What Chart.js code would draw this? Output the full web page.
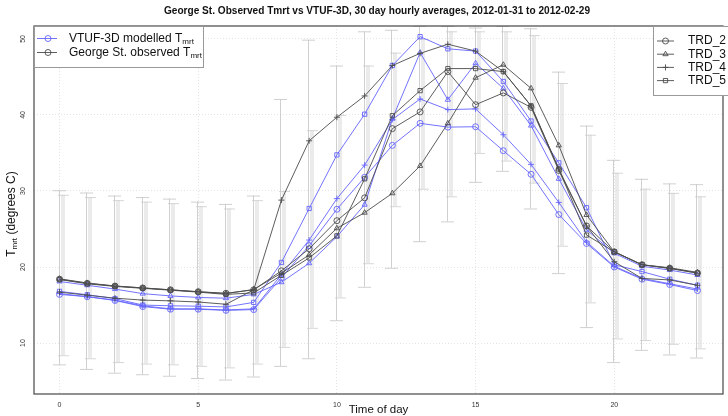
<!DOCTYPE html>
<html>
<head>
<meta charset="utf-8">
<script src="https://cdn.jsdelivr.net/npm/chart.js@4/dist/chart.umd.min.js"></script>
<style>
html,body{margin:0;padding:0;background:#fff}
#wrap{width:728px;height:416px}
</style>
</head>
<body>
<div id="wrap"><canvas id="c" width="728" height="416"></canvas></div>
<script>
// hours of the day
const hours=[0,1,2,3,4,5,6,7,8,9,10,11,12,13,14,15,16,17,18,19,20,21,22,23];
const xTicks=[0,5,10,15,20];
const yTicks=[10,20,30,40,50];

// George St. observed Tmrt
const obsTRD2=[18.4,17.85,17.5,17.25,17.0,16.75,16.55,17.0,19.5,22.4,26.1,29.1,38.2,40.4,45.7,41.35,42.9,41.0,32.7,25.4,22.0,20.3,19.85,19.2];
const obsTRD3=[18.45,17.9,17.5,17.25,17.0,16.75,16.5,17.05,19.2,21.6,25.1,27.15,29.7,33.3,38.9,44.9,46.6,43.5,36.0,26.85,22.0,20.3,19.9,19.3];
const obsTRD4=[16.7,16.3,15.9,15.65,15.55,15.4,15.1,17.0,28.8,36.6,39.7,42.5,46.5,48.1,49.3,48.4,45.7,41.2,32.9,25.4,20.7,18.5,18.3,17.6];
const obsTRD5=[18.35,17.8,17.45,17.2,16.95,16.7,16.4,16.6,18.9,21.2,24.1,31.6,39.9,43.2,46.1,46.1,45.7,41.2,32.9,24.2,22.0,20.3,19.8,19.2];
// VTUF-3D modelled Tmrt
const modTRD2=[16.4,16.1,15.6,14.8,14.45,14.45,14.3,14.4,18.6,22.8,27.6,31.8,36.0,38.9,38.4,38.45,35.3,32.2,26.9,23.1,20.0,18.4,17.7,16.9];
const modTRD3=[18.1,17.6,17.1,16.5,16.2,16.0,15.9,16.4,18.0,20.5,24.0,28.2,39.5,48.2,42.0,46.8,43.5,38.6,31.6,24.9,21.8,20.1,19.6,18.95];
const modTRD4=[16.5,16.1,15.65,14.9,14.5,14.5,14.35,14.5,19.0,23.55,29.0,33.4,39.4,42.1,40.7,40.8,37.4,33.5,28.5,23.3,20.1,18.5,17.8,17.1];
const modTRD5=[16.8,16.35,15.85,15.0,14.9,14.85,14.75,15.35,20.6,27.7,34.75,40.1,46.5,50.3,48.7,48.4,44.4,39.2,33.7,27.8,20.3,19.4,18.4,17.6];

// spread (error bars) per hour
const errLo=[7.2,6.6,6.1,5.9,5.7,5.4,5.2,5.6,7.0,8.0,13.0,17.4,19.9,23.4,26.0,31.2,32.65,27.7,19.2,12.1,7.5,9.1,8.5,8.1];
const errHi=[30.1,29.8,29.4,29.2,29.0,28.6,28.3,29.4,42.1,49.9,46.5,51.0,51.2,51.7,51.7,51.5,51.7,51.4,45.7,38.6,34.1,31.6,31.0,30.9];
const bandLo=[8.4,8.0,7.5,7.3,7.2,7.0,6.8,7.3,9.5,12.0,16.0,20.5,28.0,30.3,29.3,35.0,34.0,31.1,22.8,15.35,10.6,10.4,9.9,9.3];
const bandHi=[29.5,29.2,28.8,28.6,28.4,28.0,27.7,28.8,30.0,38.0,40.0,46.5,48.2,50.0,51.0,51.0,51.0,50.5,44.2,37.4,32.4,30.3,29.75,29.3];

const BLUE='rgba(100,100,255,0.9)';
const GREY='rgba(75,75,75,0.9)';
const FONT='"Liberation Sans", Arial, sans-serif';

function ds(label,vals,color,style){
  return {label:label,data:hours.map((h,i)=>({x:h,y:vals[i]})),borderColor:color,borderWidth:1,
    pointStyle:style,pointRadius:3,pointBorderWidth:1,pointBorderColor:color,
    pointBackgroundColor:'rgba(0,0,0,0)',tension:0,fill:false};
}

const datasets=[
  ds('obs TRD_2',obsTRD2,GREY,'circle'),
  ds('obs TRD_3',obsTRD3,GREY,'triangle'),
  ds('obs TRD_4',obsTRD4,GREY,'cross'),
  ds('obs TRD_5',obsTRD5,GREY,'rect'),
  ds('mod TRD_2',modTRD2,BLUE,'circle'),
  ds('mod TRD_3',modTRD3,BLUE,'triangle'),
  ds('mod TRD_4',modTRD4,BLUE,'cross'),
  ds('mod TRD_5',modTRD5,BLUE,'rect')
];

function mark(ctx,style,x,y,color){
  ctx.save();
  ctx.strokeStyle=color;ctx.fillStyle='rgba(0,0,0,0)';ctx.lineWidth=1;
  Chart.helpers.drawPoint(ctx,{pointStyle:style,radius:3,borderWidth:1,rotation:0},x,y);
  ctx.restore();
}

function subText(ctx,x,y,pre,sub,post,size){
  ctx.font=size+'px '+FONT;
  ctx.fillText(pre,x,y);
  let w=ctx.measureText(pre).width;
  ctx.font=Math.round(size*0.68)+'px '+FONT;
  ctx.fillText(sub,x+w,y+3);
  w+=ctx.measureText(sub).width;
  ctx.font=size+'px '+FONT;
  if(post) ctx.fillText(post,x+w,y);
}

const decor={
  id:'decor',
  beforeDatasetsDraw(chart){
    const ctx=chart.ctx,xs=chart.scales.x,ys=chart.scales.y;
    ctx.save();
    hours.forEach((h,i)=>{
      const x=Math.round(xs.getPixelForValue(h));
      // wide pale band
      const b1=ys.getPixelForValue(bandHi[i]),b2=ys.getPixelForValue(bandLo[i]);
      ctx.fillStyle='rgba(215,215,215,0.5)';
      ctx.fillRect(x+1,b1,4,b2-b1);
      ctx.strokeStyle='rgba(205,205,205,0.8)';ctx.lineWidth=1;
      ctx.beginPath();
      ctx.moveTo(x-2,b1+0.5);ctx.lineTo(x+9,b1+0.5);
      ctx.moveTo(x-2,b2+0.5);ctx.lineTo(x+9,b2+0.5);
      ctx.stroke();
      // thin whisker
      const t1=ys.getPixelForValue(errHi[i]),t2=ys.getPixelForValue(errLo[i]);
      ctx.strokeStyle='rgba(200,200,200,0.85)';
      ctx.beginPath();
      ctx.moveTo(x-0.5,t1);ctx.lineTo(x-0.5,t2);
      ctx.moveTo(x-7,t1+0.5);ctx.lineTo(x+6,t1+0.5);
      ctx.moveTo(x-7,t2+0.5);ctx.lineTo(x+6,t2+0.5);
      ctx.stroke();
    });
    ctx.restore();
  },
  afterDraw(chart){
    const ctx=chart.ctx,a=chart.chartArea,ys=chart.scales.y;
    ctx.save();
    // plot frame
    ctx.strokeStyle='#555';ctx.lineWidth=1.3;
    ctx.strokeRect(a.left,a.top,a.right-a.left,a.bottom-a.top);
    // title
    ctx.fillStyle='#111';ctx.textAlign='center';ctx.textBaseline='middle';
    ctx.font='bold 11.5px '+FONT;
    ctx.fillText('George St. Observed Tmrt vs VTUF-3D, 30 day hourly averages, 2012-01-31 to 2012-02-29',377,11,426);
    // y tick labels (rotated)
    ctx.font='7px '+FONT;ctx.fillStyle='#333';
    yTicks.forEach(v=>{
      ctx.save();ctx.translate(23,ys.getPixelForValue(v));ctx.rotate(-Math.PI/2);
      ctx.fillText(String(v),0,0);ctx.restore();
    });
    // y axis title
    ctx.save();ctx.translate(12,214);ctx.rotate(-Math.PI/2);
    ctx.fillStyle='#111';ctx.textAlign='left';
    ctx.font='12px '+FONT;
    let w=ctx.measureText('T (degrees C)').width;
    ctx.font='8px '+FONT;w+=ctx.measureText('mrt').width;
    subText(ctx,-w/2,0,'T','mrt',' (degrees C)',12);
    ctx.restore();
    // left legend
    ctx.fillStyle='#fff';ctx.strokeStyle='#999';ctx.lineWidth=1;
    ctx.fillRect(a.left+1,a.top+1,168,40);
    ctx.strokeRect(a.left+0.5,a.top+0.5,169,41);
    [[BLUE,'VTUF-3D modelled '],[GREY,'George St. observed ']].forEach((r,i)=>{
      const y=a.top+12.5+i*14;
      ctx.strokeStyle=r[0];ctx.beginPath();ctx.moveTo(37,y);ctx.lineTo(57,y);ctx.stroke();
      mark(ctx,'circle',48,y,r[0]);
      ctx.fillStyle='#111';ctx.textAlign='left';
      subText(ctx,69,y,r[1]+'T','mrt','',12);
    });
    // right legend
    ctx.fillStyle='#fff';ctx.strokeStyle='#999';
    ctx.fillRect(653.5,a.top+1,80,68);
    ctx.strokeRect(653.5,a.top+0.5,80,69);
    [['circle','TRD_2'],['triangle','TRD_3'],['cross','TRD_4'],['rect','TRD_5']].forEach((r,i)=>{
      const y=a.top+15+i*13.2;
      ctx.strokeStyle=GREY;ctx.beginPath();ctx.moveTo(657,y);ctx.lineTo(674,y);ctx.stroke();
      mark(ctx,r[0],665.5,y,GREY);
      ctx.fillStyle='#111';ctx.textAlign='left';ctx.font='12px '+FONT;
      ctx.fillText(r[1],688,y);
    });
    ctx.restore();
  }
};

new Chart(document.getElementById('c'),{
  type:'line',
  data:{datasets:datasets},
  options:{
    responsive:false,animation:false,devicePixelRatio:1,
    layout:{padding:{top:26,right:1,left:0,bottom:0}},
    plugins:{legend:{display:false},tooltip:{enabled:false},title:{display:false}},
    scales:{
      x:{type:'linear',min:-0.92,max:23.92,
        afterBuildTicks:s=>{s.ticks=xTicks.map(v=>({value:v}));},
        afterFit:s=>{s.height=22;},
        ticks:{font:{size:7,family:FONT},color:'#333',padding:7,maxRotation:0},
        grid:{color:'#e4e4e4',drawTicks:false},
        border:{display:false,dash:[1,2]},
        title:{display:true,text:'Time of day',font:{size:11.5,family:FONT},color:'#111',padding:{top:0,bottom:-1}}},
      y:{min:3.3,max:51.7,
        afterBuildTicks:s=>{s.ticks=yTicks.map(v=>({value:v}));},
        afterFit:s=>{s.width=34;},
        ticks:{display:false},
        grid:{color:'#e4e4e4',drawTicks:false},
        border:{display:false,dash:[1,2]}}
    }
  },
  plugins:[decor]
});
</script>
</body>
</html>
